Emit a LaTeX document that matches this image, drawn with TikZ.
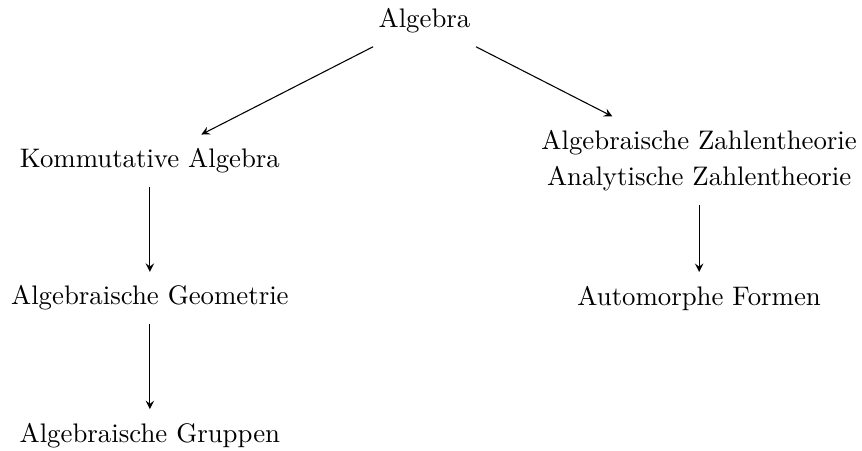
\documentclass[tikz,border=0pt]{standalone}
\usepackage{amsmath}
\usepackage{xcolor}

\begin{document}
\begin{tikzpicture}[every node/.style={align=center, inner sep=5pt}, level/.style={level distance=1.8cm}, level 1/.style={sibling distance=7.2cm, level distance=1.84cm}, edge from parent/.style={draw, -stealth}]
  \useasboundingbox (0,0) rectangle (11.3,-5.91);
  \node(alg) at (5.565,-0.268){Algebra}
    child {node(komm){Kommutative Algebra}
	child {node(geo){Algebraische Geometrie}
	child {node(grp){Algebraische Gruppen}}}}
    child {node(zahl){Algebraische Zahlentheorie\\[1.5pt]Analytische Zahlentheorie}
	child {node(auto){Automorphe Formen}}};
\end{tikzpicture}
\end{document}
